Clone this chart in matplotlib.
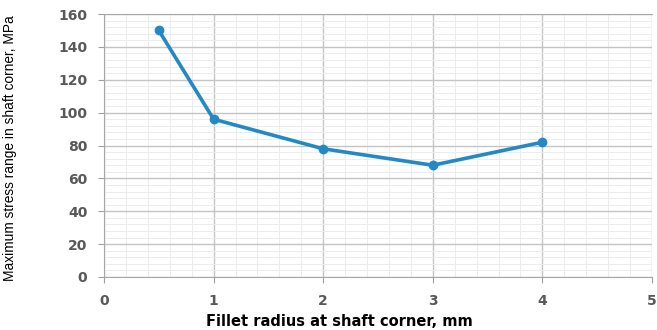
import matplotlib.pyplot as plt
from matplotlib.ticker import MultipleLocator

radius = [0.5, 1, 2, 3, 4]
stress = [150, 96, 78, 68, 82]
x_ticks = [0, 1, 2, 3, 4, 5]
y_ticks = [0, 20, 40, 60, 80, 100, 120, 140, 160]

fig = plt.figure(figsize=(6.57, 3.30), dpi=100)
ax = fig.add_axes([104 / 657, 53 / 330, 548 / 657, 263 / 330])

ax.plot(radius, stress, color="#2389c4", linewidth=2.6, marker="o",
        markersize=6, zorder=3)

ax.set_xlim(0, 5)
ax.set_ylim(0, 160)
ax.set_xticks(x_ticks)
ax.set_yticks(y_ticks)
ax.xaxis.set_minor_locator(MultipleLocator(0.2))
ax.yaxis.set_minor_locator(MultipleLocator(4))
ax.grid(which="major", color="#c4c4c4", linewidth=1.0)
ax.grid(which="minor", color="#ececec", linewidth=0.7)
ax.set_axisbelow(True)
ax.tick_params(which="minor", length=0)
ax.tick_params(which="major", length=4, color="#a0a0a0", labelcolor="#595959",
               labelsize=10, pad=8)
for lab in ax.get_xticklabels() + ax.get_yticklabels():
    lab.set_fontweight("bold")
    lab.set_family("DejaVu Sans")

for side in ["left", "bottom", "top"]:
    ax.spines[side].set_color("#a8a8a8")
ax.spines["right"].set_visible(False)

ax.set_xlabel("Fillet radius at shaft corner, mm", fontsize=10.5,
              fontweight="bold", family="DejaVu Sans")
ax.xaxis.set_label_coords(0.43, -0.14)
ax.set_ylabel("Maximum stress range in shaft corner, MPa", fontsize=9.9,
              family=["Liberation Sans Narrow", "Liberation Sans", "DejaVu Sans"])
ax.yaxis.set_label_coords(-0.158, 0.49)

fig.savefig("out.png", dpi=100)
